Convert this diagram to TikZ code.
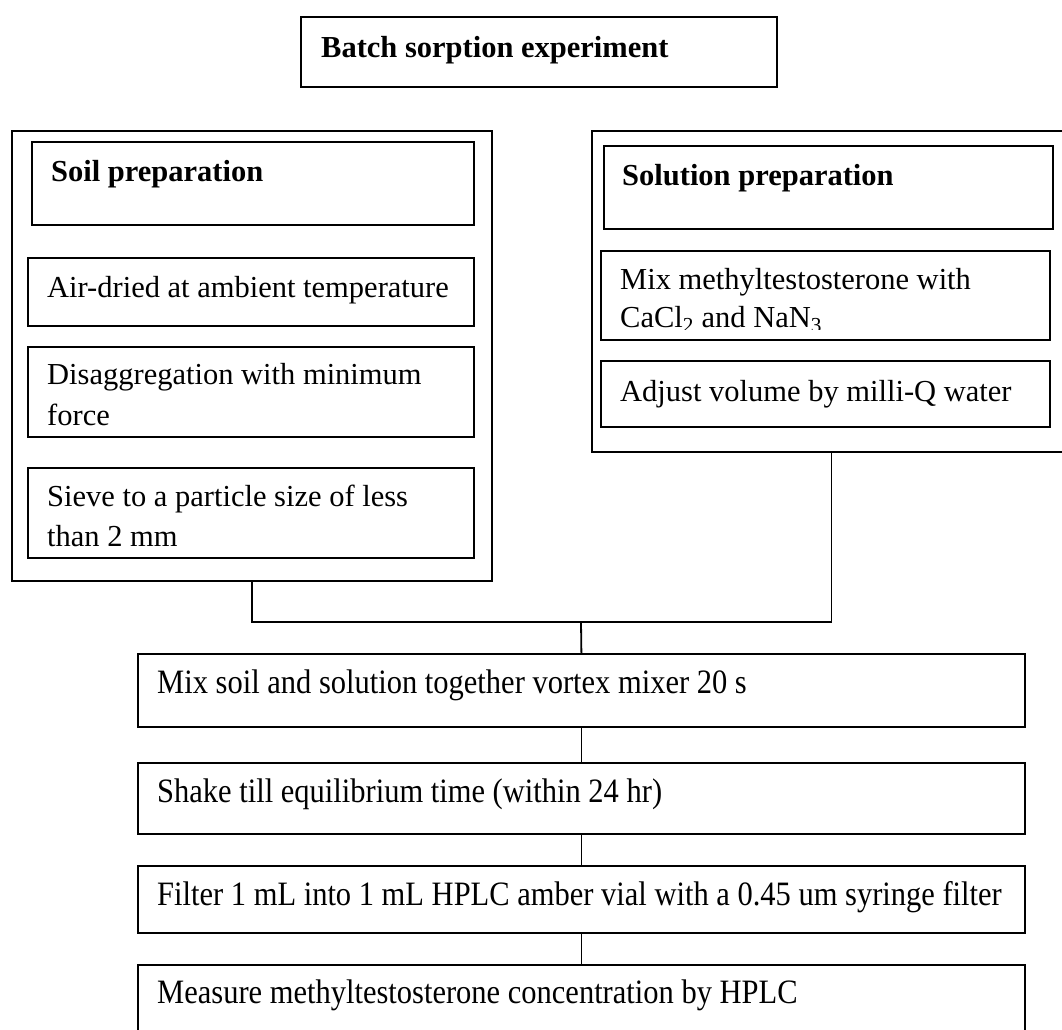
\documentclass[tikz,border=0pt]{standalone}
\usepackage{fontspec}
\setmainfont{Liberation Serif}
\usepackage{graphicx}
\begin{document}
\begin{tikzpicture}[x=1pt,y=-1pt,
  box/.style={draw, line width=1.8pt, anchor=north west, inner sep=0pt, rectangle},
  lbl/.style={anchor=base west, inner sep=0pt, font=\fontsize{30.5}{36}\selectfont},
  blbl/.style={lbl, font=\fontsize{30.5}{36}\selectfont\bfseries},
  conn/.style={line width=1.8pt}]
\useasboundingbox[fill=white] (0,0) rectangle (1062,1029);

% title
\node[box, minimum width=476pt, minimum height=70pt] (title) at (300,16) {};
\node[blbl] (titlet) at (321,57) {Batch sorption experiment};

% soil preparation group
\node[box, minimum width=480pt, minimum height=450pt] (soilouter) at (11,130) {};
\node[box, minimum width=442pt, minimum height=83pt] (soilprep) at (31,141) {};
\node[blbl] (soilprept) at (51,181) {Soil preparation};
\node[box, minimum width=446pt, minimum height=68pt] (air) at (27,257) {};
\node[lbl] (airt) at (47,297) {Air-dried at ambient temperature};
\node[box, minimum width=446pt, minimum height=90pt] (disagg) at (27,346) {};
\node[lbl] (disaggt1) at (47,384) {Disaggregation with minimum};
\node[lbl] (disaggt2) at (47,425) {force};
\node[box, minimum width=446pt, minimum height=90pt] (sieve) at (27,467) {};
\node[lbl] (sievet1) at (47,506) {Sieve to a particle size of less};
\node[lbl] (sievet2) at (47,546) {than 2 mm};

% solution preparation group
\node[box, minimum width=479pt, minimum height=321pt] (solouter) at (591,130) {};
\node[box, minimum width=449pt, minimum height=83pt] (solprep) at (603,145) {};
\node[blbl] (solprept) at (622,185) {Solution preparation};
\node[box, minimum width=449pt, minimum height=89pt] (mixmt) at (600,250) {};
\node[lbl] (mixmtt1) at (620,289) {Mix methyltestosterone with};
\begin{scope}
\clip (600,250) rectangle (1049,329);
\node[lbl] (mixmtt2) at (620,327) {CaCl\textsubscript{2} and NaN\textsubscript{3}};
\end{scope}
\node[box, minimum width=449pt, minimum height=66pt] (adjust) at (600,360) {};
\node[lbl] (adjustt) at (620,401) {Adjust volume by milli-Q water};

% process chain
\node[box, minimum width=887pt, minimum height=73pt] (mixsoil) at (137,653) {};
\node[lbl] (mixsoilt) at (157,693) {\scalebox{1}[1.12]{Mix soil and solution together vortex mixer 20 s}};
\node[box, minimum width=887pt, minimum height=71pt] (shake) at (137,762) {};
\node[lbl] (shaket) at (157,802) {\scalebox{1}[1.12]{Shake till equilibrium time (within 24 hr)}};
\node[box, minimum width=887pt, minimum height=67pt] (filter) at (137,865) {};
\node[lbl] (filtert) at (157,905) {\scalebox{1}[1.12]{Filter 1 mL into 1 mL HPLC amber vial with a 0.45 um syringe filter}};
\node[box, minimum width=887pt, minimum height=81pt] (measure) at (137,964) {};
\node[lbl] (measuret) at (157,1003) {\scalebox{1}[1.12]{Measure methyltestosterone concentration by HPLC}};

% connectors
\coordinate (j) at (581,622);
\draw[conn] (soilouter.south) |- (j) -| (solouter.south);
\draw[conn] (j) -- (mixsoil.north);
\draw[conn] (mixsoil.south) -- (shake.north);
\draw[conn] (shake.south) -- (filter.north);
\draw[conn] (filter.south) -- (measure.north);
\end{tikzpicture}
\end{document}
